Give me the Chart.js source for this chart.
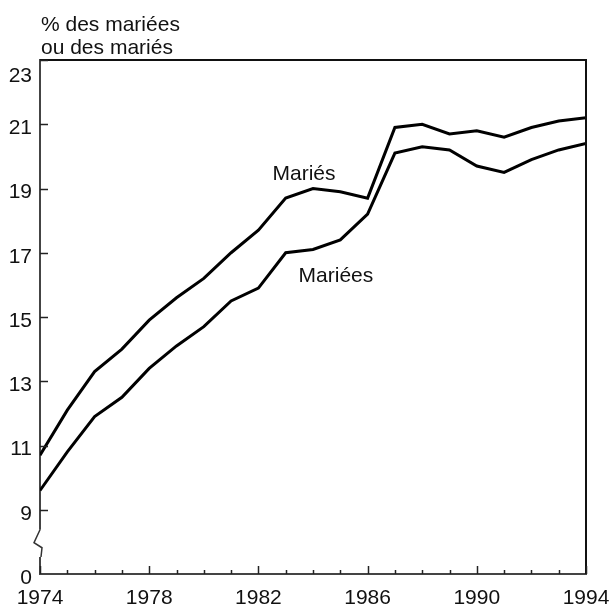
<!DOCTYPE html>
<html lang="fr">
<head>
<meta charset="utf-8">
<title>Mariés et mariées 1974-1994</title>
<script src="https://cdn.jsdelivr.net/npm/chart.js@4.4.1/dist/chart.umd.min.js"></script>
<style>
  html, body { margin: 0; padding: 0; background: #fff; }
  #wrap { width: 610px; height: 609px; }
</style>
</head>
<body>
<div id="wrap"><canvas id="chart"></canvas></div>
<script>
// Data
const years = [1974, 1975, 1976, 1977, 1978, 1979, 1980, 1981, 1982, 1983, 1984,
               1985, 1986, 1987, 1988, 1989, 1990, 1991, 1992, 1993, 1994];
const maries = [10.7, 12.1, 13.3, 14.0, 14.9, 15.6, 16.2, 17.0, 17.7, 18.7, 19.0,
                18.9, 18.7, 20.9, 21.0, 20.7, 20.8, 20.6, 20.9, 21.1, 21.2];
const mariees = [9.6, 10.8, 11.9, 12.5, 13.4, 14.1, 14.7, 15.5, 15.9, 17.0, 17.1,
                 17.4, 18.2, 20.1, 20.3, 20.2, 19.7, 19.5, 19.9, 20.2, 20.4];
// y axis is broken: the bottom tick (7) is shown as 0
const yTicks = [7, 9, 11, 13, 15, 17, 19, 21, 23];
const xMajorStep = 4;
const titleLines = ['% des mariées', 'ou des mariés'];
const seriesLabels = [
    { text: 'Mariés', x: 1983.67, y: 19.43 },
    { text: 'Mariées', x: 1984.84, y: 16.27 }
];

const FONT = '"Liberation Sans", Arial, sans-serif';
Chart.defaults.font.family = FONT;
Chart.defaults.font.size = 21;
Chart.defaults.color = '#111';

// Frame, inward ticks, axis break, title and series labels
const decorations = {
    id: 'decorations',
    afterDraw(chart) {
        const ctx = chart.ctx;
        const a = chart.chartArea;
        const x = chart.scales.x;
        const y = chart.scales.y;
        ctx.save();

        // top and right border
        ctx.strokeStyle = '#111';
        ctx.lineWidth = 2;
        ctx.beginPath();
        ctx.moveTo(a.left, a.top);
        ctx.lineTo(a.right, a.top);
        ctx.lineTo(a.right, a.bottom);
        ctx.stroke();

        // tick marks pointing into the plot
        ctx.strokeStyle = '#222';
        ctx.lineWidth = 1.5;
        x.ticks.forEach(t => {
            const px = Math.round(x.getPixelForValue(t.value)) + 0.5;
            const len = (t.value - years[0]) % xMajorStep === 0 ? 8 : 4;
            ctx.beginPath();
            ctx.moveTo(px, a.bottom);
            ctx.lineTo(px, a.bottom - len);
            ctx.stroke();
        });
        y.ticks.forEach(t => {
            if (t.value === yTicks[0]) return;
            const py = Math.round(y.getPixelForValue(t.value)) + 0.5;
            ctx.beginPath();
            ctx.moveTo(a.left, py);
            ctx.lineTo(a.left + 8, py);
            ctx.stroke();
        });

        // axis break between 0 and 9
        const yTop = y.getPixelForValue(yTicks[1]) + 20;
        const yBot = y.getPixelForValue(yTicks[0]) - 17;
        ctx.fillStyle = '#fff';
        ctx.fillRect(a.left - 3, yTop, 6, yBot - yTop);
        ctx.strokeStyle = '#333';
        ctx.lineWidth = 1.5;
        ctx.beginPath();
        ctx.moveTo(a.left, yTop);
        ctx.lineTo(a.left - 6, yTop + 13);
        ctx.lineTo(a.left + 2, yTop + 18);
        ctx.lineTo(a.left + 1, yBot);
        ctx.stroke();

        // title above the y axis
        ctx.fillStyle = '#111';
        ctx.font = '21px ' + FONT;
        ctx.textAlign = 'left';
        ctx.textBaseline = 'alphabetic';
        ctx.fillText(titleLines[0], a.left + 1, 31);
        ctx.fillText(titleLines[1], a.left + 1, 54);

        // series labels
        ctx.textAlign = 'center';
        ctx.textBaseline = 'middle';
        seriesLabels.forEach(l => {
            ctx.fillText(l.text, x.getPixelForValue(l.x), y.getPixelForValue(l.y));
        });

        ctx.restore();
    }
};

function toPoints(values) {
    return years.map((yr, i) => ({ x: yr, y: values[i] }));
}

new Chart(document.getElementById('chart'), {
    type: 'line',
    data: {
        datasets: [
            { label: 'Mariés', data: toPoints(maries) },
            { label: 'Mariées', data: toPoints(mariees) }
        ]
    },
    options: {
        responsive: true,
        maintainAspectRatio: false,
        animation: false,
        layout: { padding: { top: 60, right: 24 } },
        elements: {
            line: { borderColor: '#000', borderWidth: 3, tension: 0 },
            point: { radius: 0 }
        },
        plugins: {
            legend: { display: false },
            tooltip: { enabled: false }
        },
        scales: {
            x: {
                type: 'linear',
                min: years[0],
                max: years[years.length - 1],
                grid: { display: false, drawTicks: false },
                border: { display: true, color: '#444', width: 2 },
                ticks: {
                    stepSize: 1,
                    autoSkip: false,
                    maxRotation: 0,
                    padding: 12,
                    callback: v => ((v - years[0]) % xMajorStep === 0 ? String(v) : '')
                },
                afterFit: scale => {
                    scale.height = 35;
                    // let the end labels spill over; edges set by layout padding
                    scale.paddingLeft = 0;
                    scale.paddingRight = 0;
                }
            },
            y: {
                min: yTicks[0],
                max: yTicks[yTicks.length - 1],
                grid: { display: false, drawTicks: false },
                border: { display: true, color: '#444', width: 2 },
                afterBuildTicks: scale => {
                    scale.ticks = yTicks.map(v => ({ value: v }));
                },
                ticks: {
                    padding: 8,
                    labelOffset: 4,
                    callback: v => {
                        if (v === yTicks[0]) return '0';
                        if (v === yTicks[yTicks.length - 1]) return ['', String(v)];
                        return String(v);
                    }
                },
                afterFit: scale => { scale.width = 40; }
            }
        }
    },
    plugins: [decorations]
});
</script>
</body>
</html>
